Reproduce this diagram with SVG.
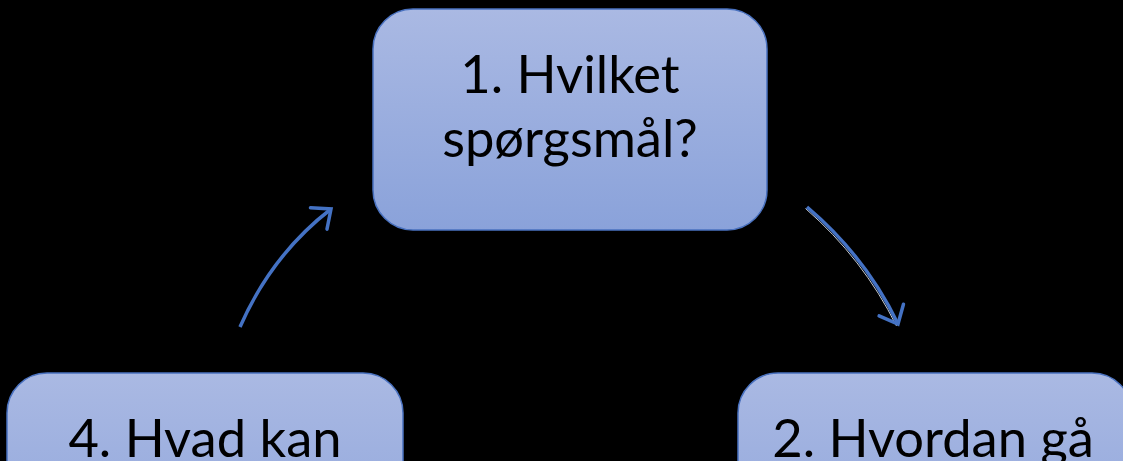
<svg xmlns="http://www.w3.org/2000/svg" width="1123" height="461" viewBox="0 0 1123 461">
  <defs>
    <linearGradient id="boxFill" x1="0" y1="0" x2="0" y2="1">
      <stop offset="0" stop-color="#aab9e3"/>
      <stop offset="1" stop-color="#8aa2da"/>
    </linearGradient>
    <marker id="chevron" markerUnits="userSpaceOnUse" markerWidth="40" markerHeight="40" refX="20" refY="20" orient="auto" overflow="visible">
      <path d="M4.5,6.5 L20,20 L4.5,33.5" fill="none" stroke="#4472c4" stroke-width="3.5" stroke-linecap="round" stroke-linejoin="miter"/>
    </marker>
  </defs>
  <style>
    .box { fill: url(#boxFill); stroke: #4a72c0; stroke-width: 1.5; }
    .label { font-family: Lato, "Liberation Sans", sans-serif; font-size: 52.5px; fill: #000; text-anchor: middle; }
    .link { fill: none; stroke: #4472c4; stroke-width: 3.5; stroke-linecap: butt; }
    .glint { fill: none; stroke: #e8eef8; stroke-width: 1; opacity: 0.85; }
  </style>
  <rect width="1123" height="461" fill="#000"/>

  <g id="connectors">
    <path class="link" d="M240,327 Q271.5,255 331,209" marker-end="url(#chevron)"/>
    <path class="glint" d="M805.5,208.5 Q863,258.5 896.5,326"/>
    <path class="link" d="M807,207 Q865.7,256.7 898,324" marker-end="url(#chevron)"/>
  </g>

  <g id="node1">
    <rect class="box" x="373" y="9" width="394" height="221" rx="40" ry="40"/>
    <text class="label" x="570" y="93">1. Hvilket</text>
    <text class="label" x="570" y="157">spørgsmål?</text>
  </g>

  <g id="node2">
    <rect class="box" x="738" y="373" width="394" height="221" rx="40" ry="40"/>
    <text class="label" x="933" y="457">2. Hvordan gå</text>
  </g>

  <g id="node4">
    <rect class="box" x="7" y="373" width="396" height="221" rx="40" ry="40"/>
    <text class="label" x="205" y="457">4. Hvad kan</text>
  </g>
</svg>
